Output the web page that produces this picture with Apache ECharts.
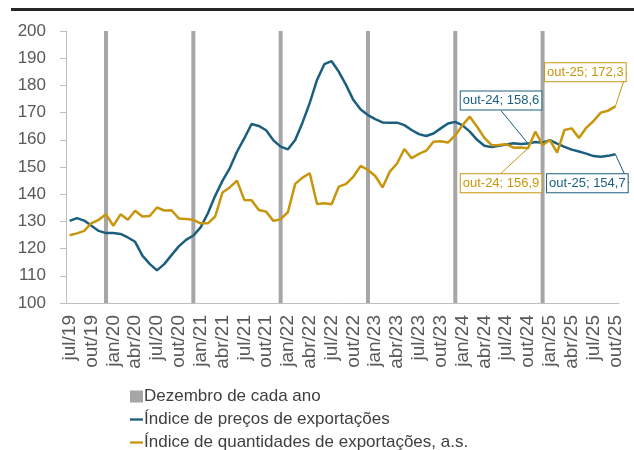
<!DOCTYPE html>
<html>
<head>
<meta charset="utf-8">
<script src="https://cdn.jsdelivr.net/npm/echarts@6/dist/echarts.min.js"></script>
<style>
  html, body { margin: 0; padding: 0; background: #fff; }
  #chart { width: 634px; height: 450px; }
</style>
</head>
<body>
<div id="chart"></div>
<script>
// meses (jul/19 .. out/25)
const months = [
  'jul/19','ago/19','set/19','out/19','nov/19','dez/19',
  'jan/20','fev/20','mar/20','abr/20','mai/20','jun/20','jul/20','ago/20','set/20','out/20','nov/20','dez/20',
  'jan/21','fev/21','mar/21','abr/21','mai/21','jun/21','jul/21','ago/21','set/21','out/21','nov/21','dez/21',
  'jan/22','fev/22','mar/22','abr/22','mai/22','jun/22','jul/22','ago/22','set/22','out/22','nov/22','dez/22',
  'jan/23','fev/23','mar/23','abr/23','mai/23','jun/23','jul/23','ago/23','set/23','out/23','nov/23','dez/23',
  'jan/24','fev/24','mar/24','abr/24','mai/24','jun/24','jul/24','ago/24','set/24','out/24','nov/24','dez/24',
  'jan/25','fev/25','mar/25','abr/25','mai/25','jun/25','jul/25','ago/25','set/25','out/25'
];

// Índice de preços de exportações
const precos = [
  130.2, 131.2, 130.3, 128.4, 126.5, 125.7,
  125.7, 125.4, 124.1, 122.5, 117.4, 114.4, 112.0, 114.3, 117.6, 120.8, 123.2, 124.8,
  127.8, 133.0, 139.4, 144.9, 149.5, 155.6, 160.5, 165.8, 165.1, 163.5, 159.8, 157.5,
  156.5, 159.9, 166.3, 173.6, 182.0, 187.8, 188.9, 185.0, 180.1, 174.6, 171.1, 169.1,
  167.6, 166.4, 166.3, 166.3, 165.4, 163.6, 162.1, 161.4, 162.3, 164.2, 166.0, 166.6,
  165.3, 163.0, 160.0, 157.8, 157.3, 157.8, 158.3, 158.7, 158.5, 158.6, 159.2, 158.9,
  159.9, 158.6, 157.4, 156.4, 155.7, 154.9, 154.0, 153.8, 154.1, 154.7
];

// Índice de quantidades de exportações, a.s.
const quantidades = [
  124.9, 125.6, 126.5, 129.4, 130.6, 132.6,
  128.4, 132.6, 130.6, 133.9, 131.8, 132.0, 135.1, 134.0, 134.1, 131.1, 130.9, 130.6,
  129.3, 129.3, 131.8, 140.6, 142.5, 145.0, 137.9, 137.8, 134.2, 133.6, 130.2, 130.8,
  133.4, 143.8, 146.1, 147.7, 136.4, 136.7, 136.3, 142.8, 143.8, 146.5, 150.4, 148.9,
  146.7, 142.5, 148.3, 151.3, 156.6, 153.2, 154.8, 156.0, 159.3, 159.5, 159.0, 161.7,
  165.4, 168.5, 164.8, 160.7, 158.0, 158.1, 158.4, 157.1, 157.2, 156.9, 163.0, 158.1,
  159.9, 155.3, 163.6, 164.2, 160.7, 164.4, 166.9, 170.0, 170.7, 172.3
];

// barras cinzas: dezembro de cada ano
const dezembro = months.map(m => m.startsWith('dez') ? 200 : null);

// rótulos destacados
const calloutMonths = ['out/24', 'out/25'];

const azul = '#1b5f7e';
const ouro = '#c8960d';
const cinza = '#a6a6a6';
const texto = '#595959';
const fonte = 'Liberation Sans, Arial, sans-serif';

// deslocamento (px) de cada caixa em relação ao ponto
const offsets = {
  azul: { 'out/24': [-27, -43], 'out/25': [-28, 29] },
  ouro: { 'out/24': [-27, 35], 'out/25': [-30, -34] }
};

function withCallouts(values, color) {
  return values.map((v, i) => {
    if (calloutMonths.indexOf(months[i]) < 0) return v;
    const m = months[i].replace('/', '-');
    return {
      value: v,
      symbol: 'circle',
      symbolSize: 1,
      label: {
        show: true,
        position: 'inside',
        formatter: m + '; ' + v.toFixed(1).replace('.', ','),
        color: color,
        fontSize: 13,
        backgroundColor: '#fff',
        borderColor: color,
        borderWidth: 1,
        padding: [3, 2, 2, 2]
      },
      labelLine: { show: true, lineStyle: { color: color, width: 1 } }
    };
  });
}

function layoutFor(key) {
  return function (params) {
    const o = offsets[key][months[params.dataIndex]];
    if (!o) return {};
    return { dx: o[0], dy: o[1] };
  };
}

const lineIcon = 'path://M0,0 L14,0 L14,2.5 L0,2.5 Z';

const chart = echarts.init(document.getElementById('chart'));

const option = {
  animation: false,
  textStyle: { fontFamily: fonte },
  graphic: [
    { type: 'rect', left: 11, top: 8, shape: { width: 623, height: 3 }, style: { fill: '#262626' } }
  ],
  grid: { left: 66, right: 15, top: 31, bottom: 147 },
  legend: {
    orient: 'vertical',
    left: 125,
    top: 383,
    height: 80,
    itemWidth: 13,
    itemHeight: 12,
    itemGap: 6,
    textStyle: { fontSize: 17, color: '#404040', padding: [0, 0, 0, -4] },
    data: [
      { name: 'Dezembro de cada ano', icon: 'rect' },
      { name: 'Índice de preços de exportações', icon: lineIcon },
      { name: 'Índice de quantidades de exportações, a.s.', icon: lineIcon }
    ]
  },
  xAxis: {
    type: 'category',
    data: months,
    boundaryGap: true,
    axisLine: { lineStyle: { color: '#bfbfbf' } },
    axisTick: { interval: 2, length: 6, lineStyle: { color: '#bfbfbf' } },
    axisLabel: { interval: 2, rotate: 90, fontSize: 19, color: texto, margin: 12 }
  },
  yAxis: {
    type: 'value',
    min: 100,
    max: 200,
    interval: 10,
    axisLine: { show: true, lineStyle: { color: '#bfbfbf' } },
    axisTick: { show: true, length: 6, lineStyle: { color: '#bfbfbf' } },
    axisLabel: { fontSize: 17, color: texto, margin: 20 },
    splitLine: { show: false }
  },
  series: [
    {
      name: 'Dezembro de cada ano',
      type: 'bar',
      data: dezembro,
      barWidth: 4,
      itemStyle: { color: cinza }
    },
    {
      name: 'Índice de preços de exportações',
      type: 'line',
      data: withCallouts(precos, azul),
      symbol: 'none',
      showAllSymbol: true,
      color: azul,
      lineStyle: { color: azul, width: 2.5 },
      labelLayout: layoutFor('azul'),
      z: 3
    },
    {
      name: 'Índice de quantidades de exportações, a.s.',
      type: 'line',
      data: withCallouts(quantidades, ouro),
      symbol: 'none',
      showAllSymbol: true,
      color: ouro,
      lineStyle: { color: ouro, width: 2.5 },
      labelLayout: layoutFor('ouro'),
      z: 4
    }
  ]
};

chart.setOption(option);
</script>
</body>
</html>
